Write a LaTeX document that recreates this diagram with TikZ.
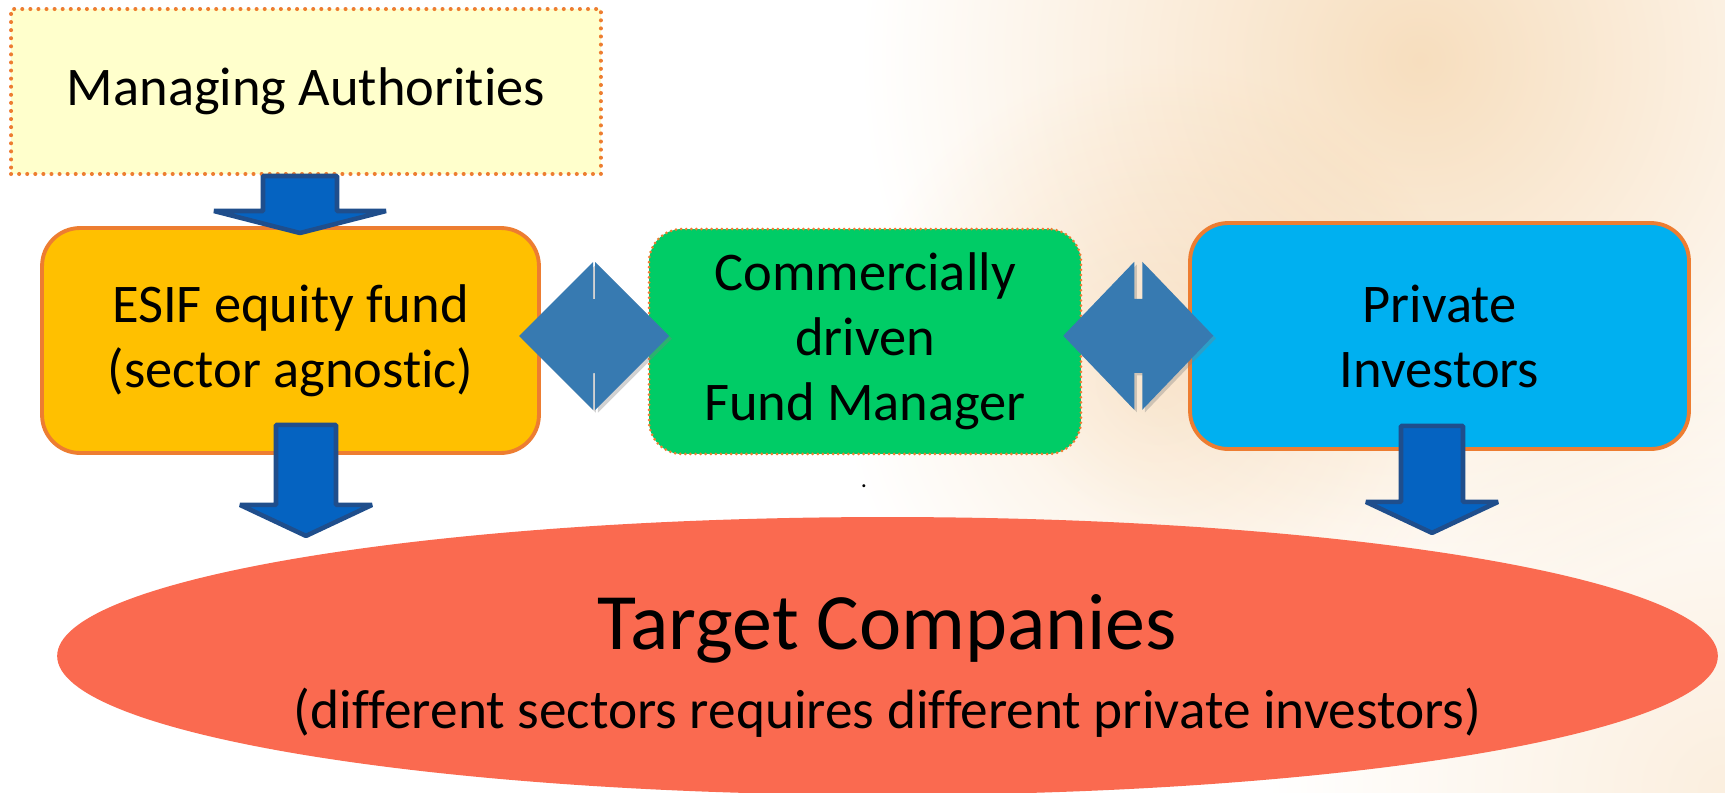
\documentclass[tikz,border=0pt]{standalone}
\usepackage{fontspec}
\setmainfont{Carlito}[Ligatures=NoCommon,RawFeature={-liga;-calt;-dlig}]
\usetikzlibrary{calc,shapes.geometric,shadows}

\definecolor{maFill}{RGB}{255,255,204}
\definecolor{edgeOrange}{RGB}{237,125,49}
\definecolor{esifFill}{RGB}{255,192,0}
\definecolor{fmFill}{RGB}{0,204,102}
\definecolor{piFill}{RGB}{0,176,240}
\definecolor{targetFill}{RGB}{250,106,80}
\definecolor{arrowFill}{RGB}{5,99,193}
\definecolor{arrowEdge}{RGB}{31,78,140}
\definecolor{linkBlue}{RGB}{55,122,177}
\definecolor{glow}{RGB}{247,222,190}

\newcommand{\boxfont}{\fontsize{31}{37}\selectfont}
% fat down arrow: top point, tip, shaft half width, head half width, head length
\newcommand{\blockarrow}[5]{%
  \filldraw[fatarrow] ($(#1)+(-#3,0)$) -- ($(#1)+(#3,0)$) -- ($(#2)+(#3,-#5)$)
    -- ($(#2)+(#4,-#5)$) -- (#2) -- ($(#2)+(-#4,-#5)$) -- ($(#2)+(-#3,-#5)$) -- cycle;}

\begin{document}
\begin{tikzpicture}[x=0.02cm,y=-0.02cm,
    box/.style={draw=edgeOrange,line width=2.2pt,rounded corners=0.76cm,
      align=center,font=\boxfont,inner sep=0pt},
    dotted edge/.style={dash pattern=on 0pt off 4.6pt,line cap=round,line width=2.3pt},
    fine dotted edge/.style={dash pattern=on 0pt off 2.9pt,line cap=round,line width=1.7pt},
    fatarrow/.style={fill=arrowFill,draw=arrowEdge,line width=2.6pt,line join=bevel},
    pics/twohead/.style={code={
      \fill[linkBlue,drop shadow={opacity=.35,shadow xshift=1.5pt,shadow yshift=-1.5pt}]
        (-75,0) -- (-#1,-74) -- (-#1,-37) -- (#1,-37) -- (#1,-74) -- (75,0)
        -- (#1,74) -- (#1,37) -- (-#1,37) -- (-#1,74) -- cycle;
    }}]
  \useasboundingbox (0,0) rectangle (1725,792);
  \fill[white] (0,0) rectangle (1725,792);
  \begin{scope}[blend mode=multiply]
    \clip (0,0) rectangle (1725,792);
    \shade[inner color=glow,outer color=white] (1420,60) circle (560);
    \shade[inner color=glow!55,outer color=white] (1160,380) circle (320);
    \shade[inner color=glow!50,outer color=white] (1725,792) circle (460);
  \end{scope}

  \node[box,dotted edge,rounded corners=0pt,fill=maFill,
    minimum width=11.8cm,minimum height=3.3cm] (ma) at (306,91.5) {Managing Authorities};
  \node[box,fill=esifFill,minimum width=9.94cm,minimum height=4.5cm]
    (esif) at (290.5,340.5) {ESIF equity fund\\(sector agnostic)};
  \node[box,fine dotted edge,rounded corners=0.66cm,fill=fmFill,
    minimum width=8.64cm,minimum height=4.5cm] (fm) at (865,341.5) {Commercially\\driven\\Fund Manager};
  \node[box,fill=piFill,minimum width=9.98cm,minimum height=4.52cm]
    (pi) at (1439.5,336) {Private\\Investors};
  \node[ellipse,fill=targetFill,minimum width=33.22cm,minimum height=5.56cm]
    (target) at (887.5,656) {};
  \node[align=center,font=\fontsize{31.5}{44.5}\selectfont] (targettext)
    at ($(target.center)+(0,10)$)
    {{\fontsize{45.5}{44.5}\selectfont Target Companies}\\(different sectors requires different private investors)};
  \node[font=\fontsize{14}{14}\selectfont] (dot) at (864,486) {.};

  \pic at ($(esif.east)!.5!(fm.west)+(0,-5)$) {twohead=1};
  \pic at ($(fm.east)!.5!(pi.west)+(3,-3)$) {twohead=4};

  \coordinate (a1top) at ($(ma.south)+(-6,0)$);
  \coordinate (a1tip) at ($(ma.south)+(-6,57)$);
  \coordinate (a2top) at ($(esif.south)+(15.5,-30)$);
  \coordinate (a2tip) at ($(esif.south)+(15.5,81)$);
  \coordinate (a3top) at ($(pi.south)+(-7.5,-25)$);
  \coordinate (a3tip) at ($(pi.south)+(-7.5,82)$);
  \blockarrow{a1top}{a1tip}{37}{86}{22}
  \blockarrow{a2top}{a2tip}{30}{66}{31}
  \blockarrow{a3top}{a3tip}{31}{66}{31}
\end{tikzpicture}
\end{document}
